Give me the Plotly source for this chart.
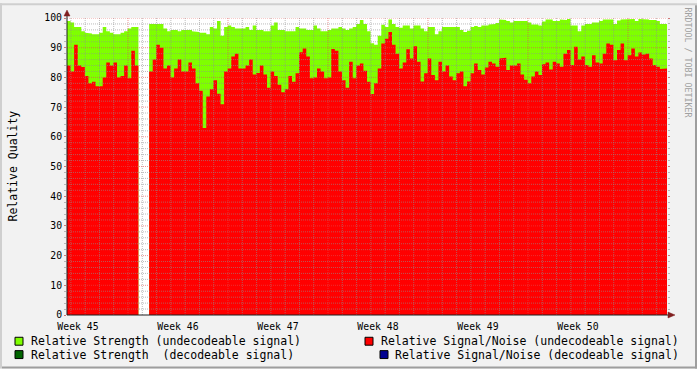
import numpy as np
import pandas as pd
import plotly.graph_objects as go

# ---------------- data ----------------
start_time = "2008-11-05 17:30"
step_hours = 6
span_days = 42

# Relative Strength (undecodeable signal), one value per 6 h sample
strength = [
    99, 98.5, 97, 97, 95.5, 95, 94.8, 94.5, 94.5, 95,
    97, 95.5, 95, 94.5, 94.5, 95, 95.5, 96.5, 97, 97,
    None, None, None, 98, 98, 98, 98, 96.5, 95.5, 96,
    96, 95.5, 96, 96, 96, 95.5, 95.3, 95, 95, 94.5,
    97, 96.5, 99, 94, 97, 97.5, 97, 96.5, 96.5, 96.5,
    97, 96, 97.5, 96, 96, 95.5, 95.5, 97.5, 98.5, 96,
    96, 95.5, 95.5, 95.5, 97, 96.5, 96.5, 96, 96, 97.5,
    96.5, 95.5, 95.5, 96, 96.5, 96.5, 97, 96.5, 96, 96.5,
    97, 98, 99.3, 98, 95.5, 91.5, 91, 94, 97.7, 97,
    99.5, 98, 97, 96.7, 97.5, 97.5, 96.5, 97.5, 97.5, 96.5,
    95.5, 97, 97, 94.5, 95.5, 97, 97, 97, 97, 97,
    96, 95.3, 95.7, 97, 97.3, 97, 97.5, 97.5, 97.8, 98,
    98.3, 99.5, 99.3, 99, 98.5, 99, 99, 99, 99, 98.5,
    97.8, 97.8, 97.5, 98.8, 99.5, 99.5, 99, 99, 99.5, 99.3,
    99.7, 97.5, 97.5, 95.5, 97.5, 98, 98, 98.5, 98.5, 99,
    99.5, 99.5, 99.5, 98, 99.2, 99.5, 99.5, 99.5, 99.7, 99,
    99.7, 99.5, 99.5, 99.3, 99.3, 99, 98, 98,
]

# Relative Signal/Noise (undecodeable signal)
snr = [
    84, 82, 91, 84, 83.5, 80.5, 78, 78.5, 77, 77,
    80, 85, 84, 85, 80, 80.5, 84, 79.7, 89, 84,
    None, None, None, 82, 86, 91, 90, 83, 84, 80,
    83, 86, 82, 82, 85, 83, 78, 75.5, 63, 73.6,
    76, 79, 74.5, 71, 82, 83, 87, 88, 83, 83,
    84, 86, 81, 81.5, 84, 81, 76.5, 82, 80.5, 77.5,
    75, 76, 80.5, 78.5, 81.4, 88.5, 89.7, 87, 79.7, 80,
    83, 82, 79.7, 80, 89.6, 89, 82, 79, 76.5, 85.3,
    79.7, 84, 84.7, 82.2, 78.5, 74.4, 78, 83, 91.4, 93,
    95.3, 91, 88, 83, 85, 89.5, 86.4, 90.5, 85.3, 78.6,
    81.4, 86.4, 80.8, 79, 85.3, 82, 84, 80.3, 79, 81.4,
    82, 77, 78.6, 81.4, 84.7, 82.5, 81, 83.3, 85.3, 84.7,
    83.6, 86.4, 86.6, 82.5, 84, 84, 84.7, 81, 79.2, 78,
    80.3, 82, 80.8, 84.4, 85, 82.7, 85.3, 84.7, 83.6, 88,
    89.2, 84.2, 90.3, 86, 87, 84.2, 83.6, 87.5, 85, 84.7,
    88, 91.4, 91, 85.8, 89.2, 91.4, 85.8, 87.5, 89.7, 87,
    88.4, 87.7, 88, 86.4, 84.2, 83.6, 82.8, 83,
]

week_labels = ["Week 45", "Week 46", "Week 47", "Week 48", "Week 49", "Week 50"]
week_label_times = ["2008-11-06 12:00", "2008-11-13 12:00", "2008-11-20 12:00",
                    "2008-11-27 12:00", "2008-12-04 12:00", "2008-12-11 12:00"]
y_ticks = list(range(0, 101, 10))

legend_texts = ["Relative Strength (undecodeable signal)",
                "Relative Strength  (decodeable signal)",
                "Relative Signal/Noise (undecodeable signal)",
                "Relative Signal/Noise (decodeable signal)"]
legend_colors = ["#7FFF00", "#006400", "#FF0000", "#000090"]

y_title = "Relative Quality"
watermark = "RRDTOOL / TOBI OETIKER"

# ---------------- styling ----------------
FONT = "DejaVu Sans Mono"
C_GREEN = "#7FFF00"
C_RED = "#FF0000"
C_GRID = "rgba(143,143,143,0.6)"
C_MGRID = "rgba(222,79,79,0.6)"
C_AXIS = "#1F1F1F"
C_ARROW = "#801F1F"

W_IMG, H_IMG = 697, 369
L, R, T, B = 67, 667, 15, 315
PW, PH = R - L, B - T


def px(x):
    return (x - L) / PW


def py(y):
    return (B - y) / PH


t0 = pd.Timestamp(start_time)
t_final = t0 + pd.Timedelta(days=span_days)
n = len(strength)
t_start = t0 + pd.to_timedelta(np.arange(n) * step_hours, unit="h")
t_end = t_start + pd.Timedelta(hours=step_hours)


def segments(vals):
    """Split the series into contiguous runs of known values, as step outlines."""
    segs, xs, ys = [], [], []
    for a, b, v in zip(t_start, t_end, vals):
        if v is None:
            if xs:
                segs.append((xs, ys))
            xs, ys = [], []
            continue
        xs += [a, b]
        ys += [v, v]
    if xs:
        segs.append((xs, ys))
    return segs


fig = go.Figure()
for vals, col in ((strength, C_GREEN), (snr, C_RED)):
    for xs, ys in segments(vals):
        fig.add_trace(go.Scatter(x=xs, y=ys, mode="lines", fill="tozeroy",
                                 fillcolor=col, line=dict(width=0, color=col),
                                 hoverinfo="skip", showlegend=False))

shapes = []
# grid (drawn above the data, like rrdtool)
days = pd.date_range(t0.normalize() + pd.Timedelta(days=1), t_final, freq="D")
hvals = list(range(2, 101, 2))
for major in (False, True):
    for d in days:
        if (d.weekday() == 0) != major:
            continue
        shapes.append(dict(type="line", xref="x", yref="paper", x0=d, x1=d,
                           y0=0, y1=1, layer="above",
                           line=dict(color=C_MGRID if major else C_GRID,
                                     width=1, dash="1px,1px")))
    for v in hvals:
        if (v % 10 == 0) != major:
            continue
        shapes.append(dict(type="line", xref="paper", yref="y", x0=0, x1=1,
                           y0=v, y1=v, layer="above",
                           line=dict(color=C_MGRID if major else C_GRID,
                                     width=1, dash="1px,1px")))

# axes with arrows
shapes.append(dict(type="line", xref="paper", yref="paper", x0=px(67), x1=px(669),
                   y0=py(315), y1=py(315), layer="above",
                   line=dict(color=C_AXIS, width=1)))
shapes.append(dict(type="line", xref="paper", yref="paper", x0=px(67), x1=px(67),
                   y0=py(315), y1=py(12), layer="above",
                   line=dict(color=C_AXIS, width=1)))
shapes.append(dict(type="path", xref="paper", yref="paper", layer="above",
                   path=f"M {px(668)},{py(312)} L {px(675)},{py(315)} L {px(668)},{py(318)} Z",
                   fillcolor=C_ARROW, line=dict(color=C_ARROW, width=0.5)))
shapes.append(dict(type="path", xref="paper", yref="paper", layer="above",
                   path=f"M {px(64)},{py(13)} L {px(67)},{py(7)} L {px(70)},{py(13)} Z",
                   fillcolor=C_ARROW, line=dict(color=C_ARROW, width=0.5)))

# frame shading
shapes.append(dict(type="rect", xref="paper", yref="paper", x0=px(0), x1=px(W_IMG),
                   y0=py(0), y1=py(2), fillcolor="#CFCFCF", line=dict(width=0)))
shapes.append(dict(type="rect", xref="paper", yref="paper", x0=px(0), x1=px(2),
                   y0=py(0), y1=py(H_IMG), fillcolor="#CFCFCF", line=dict(width=0)))
shapes.append(dict(type="rect", xref="paper", yref="paper", x0=px(2), x1=px(W_IMG),
                   y0=py(H_IMG - 2), y1=py(H_IMG), fillcolor="#9E9E9E", line=dict(width=0)))
shapes.append(dict(type="rect", xref="paper", yref="paper", x0=px(W_IMG - 2), x1=px(W_IMG),
                   y0=py(2), y1=py(H_IMG), fillcolor="#9E9E9E", line=dict(width=0)))

# legend
leg_pos = [(15, 30, 341.5), (15, 30, 355), (365, 380, 341.5), (380, 394, 355)]
annotations = []
for (sx, tx, cy), txt, col in zip(leg_pos, legend_texts, legend_colors):
    shapes.append(dict(type="rect", xref="paper", yref="paper",
                       x0=px(sx), x1=px(sx + 8), y0=py(cy - 4), y1=py(cy + 4),
                       fillcolor=col, line=dict(color="#000000", width=1)))
    annotations.append(dict(xref="paper", yref="paper", x=px(tx), y=py(cy),
                            xanchor="left", yanchor="middle", showarrow=False,
                            text=txt.replace(" ", "&nbsp;"), borderpad=0,
                            font=dict(family=FONT, size=11.5, color="#000000")))

annotations.append(dict(xref="paper", yref="paper", x=px(12), y=py(165),
                        xanchor="center", yanchor="middle", showarrow=False,
                        text=y_title, textangle=-90,
                        font=dict(family=FONT, size=11.5, color="#000000")))
annotations.append(dict(xref="paper", yref="paper", x=px(688), y=py(60),
                        xanchor="center", yanchor="middle", showarrow=False,
                        text=watermark, textangle=90,
                        font=dict(family=FONT, size=8.3, color="#A0A0A0")))

fig.update_layout(
    width=W_IMG, height=H_IMG, autosize=False,
    margin=dict(l=L, r=W_IMG - R, t=T, b=H_IMG - B, pad=0),
    paper_bgcolor="#F2F2F2", plot_bgcolor="#FFFFFF",
    showlegend=False, hovermode=False,
    shapes=shapes, annotations=annotations,
    xaxis=dict(type="date", range=[t0, t_final], showgrid=False, zeroline=False,
               showline=False, ticks="outside", ticklen=2, tickcolor="rgba(0,0,0,0)",
               tickvals=week_label_times,
               ticktext=week_labels, fixedrange=True,
               tickfont=dict(family=FONT, size=9.8, color="#000000")),
    yaxis=dict(range=[0, 100], showgrid=False, zeroline=False, showline=False,
               tickvals=y_ticks, ticktext=[str(v) for v in y_ticks],
               ticks="outside", ticklen=2, tickcolor=C_MGRID, mirror="ticks",
               minor=dict(dtick=2, ticks="outside", ticklen=2, tickcolor=C_GRID,
                          showgrid=False),
               fixedrange=True,
               tickfont=dict(family=FONT, size=9.8, color="#000000")),
)

fig.write_html("out.html", config=dict(displayModeBar=False))
